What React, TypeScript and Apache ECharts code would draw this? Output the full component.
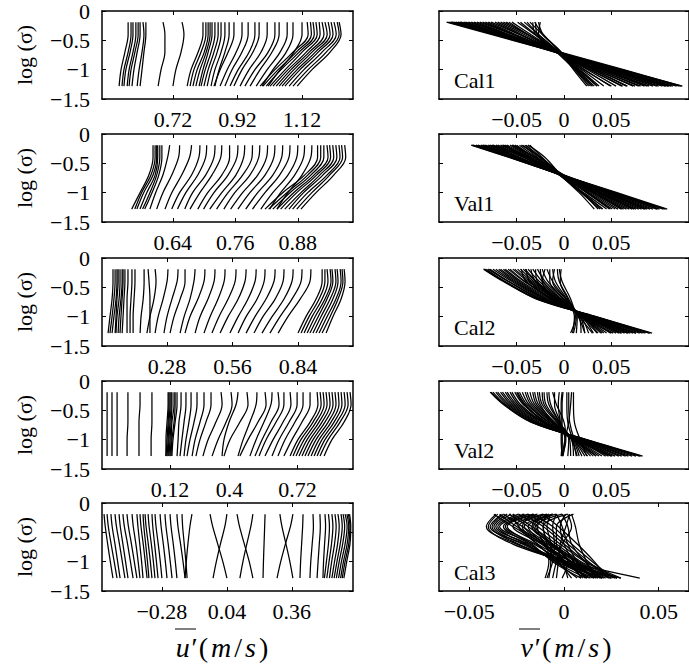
import React, { useEffect, useRef } from 'react';
import * as echarts from 'echarts';

// ---------------- data ----------------
const Y_LEVELS = [-0.19, -0.4, -0.7, -1.0, -1.28];
const Y_TICK_MIN = -1.5;
const Y_TICK_MAX = 0;
const Y_TICK_STEP = 0.5;

const L_XTICKS = [
  [0.72, 0.92, 1.12],
  [0.64, 0.76, 0.88],
  [0.28, 0.56, 0.84],
  [0.12, 0.4, 0.72],
  [-0.28, 0.04, 0.36],
];
const L_XRANGE = [
  [0.5, 1.278],
  [0.504, 0.986],
  [0.002, 1.075],
  [-0.2, 0.981],
  [-0.575, 0.661],
];
const R_XTICKS = [-0.05, 0, 0.05];
const R_XRANGE = [
  [-0.132, 0.132],
  [-0.132, 0.132],
  [-0.132, 0.132],
  [-0.132, 0.132],
  [-0.066, 0.066],
];
const PANEL_NAMES = ['Cal1', 'Val1', 'Cal2', 'Val2', 'Cal3'];

// u' profiles (x at each Y level)
const U_CAL1 = [
  [0.581, 0.581, 0.571, 0.559, 0.553], [0.590, 0.590, 0.581, 0.568, 0.562], [0.596, 0.596, 0.587, 0.574, 0.568],
  [0.605, 0.605, 0.596, 0.584, 0.578], [0.612, 0.612, 0.602, 0.590, 0.584], [0.618, 0.618, 0.609, 0.599, 0.593],
  [0.627, 0.630, 0.624, 0.615, 0.609], [0.636, 0.636, 0.630, 0.624, 0.618], [0.689, 0.695, 0.695, 0.683, 0.674],
  [0.748, 0.754, 0.745, 0.729, 0.720], [0.813, 0.813, 0.798, 0.776, 0.764], [0.822, 0.822, 0.807, 0.785, 0.773],
  [0.829, 0.829, 0.817, 0.795, 0.782], [0.835, 0.835, 0.823, 0.804, 0.791], [0.841, 0.841, 0.829, 0.813, 0.801],
  [0.850, 0.850, 0.838, 0.820, 0.807], [0.860, 0.860, 0.847, 0.829, 0.816], [0.869, 0.869, 0.857, 0.838, 0.826],
  [0.881, 0.881, 0.869, 0.850, 0.838], [0.894, 0.894, 0.881, 0.863, 0.850], [0.909, 0.909, 0.891, 0.866, 0.847],
  [0.934, 0.934, 0.916, 0.888, 0.866], [0.953, 0.953, 0.934, 0.903, 0.881], [0.974, 0.974, 0.956, 0.922, 0.897],
  [0.987, 0.987, 0.968, 0.934, 0.909], [1.012, 1.012, 0.993, 0.956, 0.928], [1.036, 1.036, 1.015, 0.974, 0.943],
  [1.049, 1.049, 1.027, 0.990, 0.959], [1.074, 1.074, 1.052, 1.012, 0.978], [1.092, 1.092, 1.071, 1.030, 0.996],
  [1.120, 1.120, 1.095, 1.052, 1.015], [1.136, 1.139, 1.092, 1.036, 0.990], [1.146, 1.149, 1.102, 1.046, 0.999],
  [1.154, 1.158, 1.111, 1.055, 1.009], [1.163, 1.167, 1.120, 1.068, 1.021], [1.173, 1.176, 1.133, 1.077, 1.030],
  [1.182, 1.188, 1.142, 1.086, 1.040], [1.191, 1.198, 1.151, 1.095, 1.049], [1.201, 1.207, 1.161, 1.105, 1.058],
  [1.210, 1.216, 1.170, 1.114, 1.067], [1.219, 1.226, 1.182, 1.126, 1.080], [1.229, 1.235, 1.195, 1.139, 1.092],
  [1.235, 1.241, 1.207, 1.151, 1.105],
];
const U_VAL1 = [
  [0.602, 0.602, 0.594, 0.577, 0.561], [0.606, 0.606, 0.598, 0.580, 0.567], [0.609, 0.609, 0.602, 0.584, 0.571],
  [0.611, 0.611, 0.606, 0.590, 0.577], [0.615, 0.615, 0.609, 0.596, 0.582], [0.619, 0.619, 0.613, 0.600, 0.586],
  [0.634, 0.630, 0.621, 0.607, 0.596], [0.653, 0.651, 0.638, 0.621, 0.609], [0.676, 0.672, 0.657, 0.638, 0.625],
  [0.692, 0.690, 0.676, 0.653, 0.638], [0.705, 0.703, 0.688, 0.665, 0.649], [0.721, 0.719, 0.703, 0.678, 0.663],
  [0.734, 0.732, 0.715, 0.692, 0.673], [0.749, 0.749, 0.734, 0.707, 0.688], [0.765, 0.763, 0.746, 0.719, 0.699],
  [0.778, 0.776, 0.761, 0.734, 0.711], [0.793, 0.792, 0.774, 0.746, 0.724], [0.807, 0.805, 0.788, 0.759, 0.738],
  [0.822, 0.820, 0.803, 0.774, 0.751], [0.836, 0.834, 0.817, 0.788, 0.765], [0.851, 0.849, 0.832, 0.803, 0.780],
  [0.865, 0.863, 0.845, 0.817, 0.793], [0.880, 0.878, 0.861, 0.832, 0.809], [0.893, 0.891, 0.874, 0.847, 0.826],
  [0.907, 0.905, 0.888, 0.861, 0.840], [0.918, 0.918, 0.893, 0.851, 0.817], [0.924, 0.924, 0.899, 0.859, 0.824],
  [0.930, 0.930, 0.905, 0.865, 0.832], [0.936, 0.938, 0.911, 0.872, 0.840], [0.941, 0.943, 0.916, 0.878, 0.847],
  [0.947, 0.949, 0.922, 0.886, 0.855], [0.953, 0.955, 0.928, 0.891, 0.863], [0.959, 0.961, 0.936, 0.899, 0.870],
  [0.964, 0.966, 0.941, 0.907, 0.878], [0.970, 0.972, 0.949, 0.915, 0.886],
];
const U_CAL2 = [
  [0.049, 0.049, 0.045, 0.036, 0.028], [0.058, 0.058, 0.053, 0.045, 0.036], [0.066, 0.066, 0.062, 0.053, 0.045],
  [0.071, 0.071, 0.066, 0.062, 0.058], [0.079, 0.079, 0.075, 0.066, 0.062], [0.088, 0.088, 0.083, 0.075, 0.071],
  [0.092, 0.092, 0.088, 0.083, 0.079], [0.100, 0.100, 0.096, 0.092, 0.088], [0.113, 0.113, 0.109, 0.109, 0.109],
  [0.130, 0.130, 0.126, 0.122, 0.122], [0.143, 0.143, 0.139, 0.135, 0.135], [0.182, 0.182, 0.178, 0.169, 0.165],
  [0.199, 0.203, 0.207, 0.207, 0.207], [0.229, 0.233, 0.224, 0.207, 0.194], [0.284, 0.280, 0.263, 0.242, 0.229],
  [0.327, 0.323, 0.301, 0.280, 0.267], [0.357, 0.357, 0.336, 0.310, 0.293], [0.400, 0.395, 0.378, 0.353, 0.336],
  [0.442, 0.438, 0.412, 0.378, 0.357], [0.485, 0.481, 0.455, 0.421, 0.400], [0.528, 0.524, 0.498, 0.464, 0.438],
  [0.575, 0.571, 0.541, 0.502, 0.472], [0.618, 0.613, 0.584, 0.541, 0.507], [0.661, 0.656, 0.626, 0.584, 0.549],
  [0.699, 0.695, 0.665, 0.618, 0.584], [0.742, 0.737, 0.703, 0.656, 0.618], [0.780, 0.776, 0.742, 0.690, 0.652],
  [0.819, 0.814, 0.780, 0.729, 0.686], [0.857, 0.853, 0.814, 0.763, 0.720], [0.895, 0.891, 0.849, 0.797, 0.755],
  [0.943, 0.943, 0.917, 0.874, 0.840], [0.955, 0.955, 0.930, 0.887, 0.853], [0.964, 0.968, 0.943, 0.900, 0.866],
  [0.977, 0.981, 0.955, 0.913, 0.879], [0.985, 0.989, 0.964, 0.926, 0.891], [0.998, 1.002, 0.977, 0.938, 0.904],
  [1.007, 1.011, 0.989, 0.951, 0.917], [1.020, 1.024, 1.002, 0.964, 0.930], [1.028, 1.032, 1.011, 0.977, 0.943],
  [1.037, 1.041, 1.024, 0.989, 0.960],
];
const U_VAL2 = [
  [-0.176, -0.176, -0.176, -0.176, -0.176], [-0.153, -0.153, -0.153, -0.153, -0.153], [-0.129, -0.129, -0.129, -0.129, -0.129],
  [-0.078, -0.078, -0.078, -0.082, -0.082], [-0.021, -0.021, -0.026, -0.026, -0.026], [0.035, 0.035, 0.035, 0.031, 0.031],
  [0.111, 0.111, 0.106, 0.101, 0.101], [0.115, 0.115, 0.111, 0.106, 0.101], [0.120, 0.120, 0.115, 0.111, 0.106],
  [0.125, 0.125, 0.120, 0.115, 0.111], [0.129, 0.129, 0.125, 0.120, 0.115], [0.139, 0.139, 0.129, 0.125, 0.120],
  [0.144, 0.144, 0.139, 0.129, 0.125], [0.153, 0.153, 0.144, 0.134, 0.129], [0.172, 0.172, 0.162, 0.158, 0.153],
  [0.195, 0.195, 0.186, 0.176, 0.167], [0.219, 0.219, 0.209, 0.195, 0.186], [0.247, 0.247, 0.233, 0.214, 0.200],
  [0.280, 0.280, 0.261, 0.238, 0.224], [0.313, 0.313, 0.289, 0.261, 0.242], [0.360, 0.365, 0.336, 0.299, 0.275],
  [0.407, 0.412, 0.384, 0.346, 0.318], [0.440, 0.431, 0.398, 0.374, 0.365], [0.482, 0.487, 0.449, 0.402, 0.374],
  [0.529, 0.525, 0.496, 0.464, 0.440], [0.567, 0.572, 0.534, 0.487, 0.449], [0.600, 0.595, 0.562, 0.525, 0.496],
  [0.628, 0.633, 0.595, 0.553, 0.520], [0.656, 0.656, 0.619, 0.572, 0.539], [0.685, 0.689, 0.652, 0.605, 0.567],
  [0.718, 0.718, 0.680, 0.633, 0.600], [0.746, 0.746, 0.708, 0.661, 0.628], [0.779, 0.779, 0.741, 0.694, 0.656],
  [0.812, 0.816, 0.779, 0.722, 0.685], [0.826, 0.831, 0.793, 0.736, 0.699], [0.840, 0.845, 0.807, 0.751, 0.713],
  [0.854, 0.859, 0.821, 0.765, 0.727], [0.868, 0.873, 0.835, 0.779, 0.741], [0.882, 0.887, 0.849, 0.793, 0.755],
  [0.896, 0.901, 0.864, 0.807, 0.769], [0.911, 0.915, 0.878, 0.821, 0.784], [0.925, 0.929, 0.892, 0.835, 0.798],
  [0.939, 0.944, 0.906, 0.849, 0.812], [0.953, 0.958, 0.920, 0.864, 0.826], [0.967, 0.972, 0.939, 0.882, 0.845],
];
const U_CAL3 = [
  [-0.565, -0.559, -0.547, -0.534, -0.521], [-0.550, -0.544, -0.530, -0.515, -0.501], [-0.531, -0.525, -0.511, -0.498, -0.486],
  [-0.511, -0.504, -0.489, -0.475, -0.462], [-0.491, -0.485, -0.472, -0.459, -0.447], [-0.472, -0.465, -0.449, -0.435, -0.422],
  [-0.452, -0.445, -0.430, -0.416, -0.403], [-0.427, -0.421, -0.408, -0.397, -0.388], [-0.403, -0.398, -0.389, -0.380, -0.373],
  [-0.388, -0.383, -0.372, -0.362, -0.353], [-0.373, -0.369, -0.360, -0.351, -0.344], [-0.363, -0.358, -0.347, -0.337, -0.329],
  [-0.348, -0.343, -0.332, -0.322, -0.314], [-0.329, -0.325, -0.316, -0.307, -0.299], [-0.314, -0.309, -0.298, -0.288, -0.280],
  [-0.289, -0.284, -0.273, -0.263, -0.255], [-0.265, -0.260, -0.249, -0.239, -0.230], [-0.240, -0.235, -0.224, -0.214, -0.206],
  [-0.206, -0.201, -0.188, -0.176, -0.166], [-0.181, -0.178, -0.170, -0.162, -0.156], [-0.132, -0.142, -0.152, -0.160, -0.166],
  [-0.043, -0.030, -0.005, 0.020, 0.040], [0.040, 0.030, 0.008, -0.012, -0.028], [0.090, 0.102, 0.126, 0.150, 0.168],
  [0.168, 0.158, 0.138, 0.119, 0.104], [0.228, 0.226, 0.223, 0.220, 0.218], [0.301, 0.311, 0.331, 0.350, 0.365],
  [0.365, 0.353, 0.328, 0.305, 0.287], [0.415, 0.413, 0.408, 0.403, 0.400], [0.464, 0.466, 0.460, 0.453, 0.449],
  [0.498, 0.500, 0.495, 0.489, 0.484], [0.523, 0.526, 0.521, 0.516, 0.513], [0.540, 0.545, 0.540, 0.530, 0.520],
  [0.557, 0.562, 0.555, 0.543, 0.532], [0.572, 0.578, 0.570, 0.556, 0.545], [0.587, 0.593, 0.585, 0.570, 0.557],
  [0.602, 0.608, 0.598, 0.582, 0.568], [0.612, 0.620, 0.610, 0.593, 0.579], [0.622, 0.632, 0.622, 0.604, 0.590],
  [0.631, 0.640, 0.632, 0.614, 0.600], [0.638, 0.646, 0.640, 0.622, 0.608], [0.644, 0.650, 0.646, 0.630, 0.616],
];

// v' profiles
const V_CAL1 = [
  [-0.124, -0.077, -0.008, 0.061, 0.125], [-0.119, -0.073, -0.008, 0.057, 0.119], [-0.114, -0.070, -0.008, 0.054, 0.113],
  [-0.109, -0.067, -0.008, 0.051, 0.107], [-0.104, -0.064, -0.008, 0.048, 0.100], [-0.098, -0.061, -0.008, 0.045, 0.094],
  [-0.092, -0.058, -0.008, 0.041, 0.088], [-0.086, -0.054, -0.008, 0.037, 0.081], [-0.080, -0.051, -0.008, 0.034, 0.073],
  [-0.073, -0.047, -0.008, 0.031, 0.067], [-0.067, -0.042, -0.007, 0.028, 0.061], [-0.061, -0.038, -0.007, 0.025, 0.055],
  [-0.055, -0.035, -0.006, 0.022, 0.049], [-0.049, -0.031, -0.006, 0.019, 0.042], [-0.042, -0.027, -0.005, 0.017, 0.037],
  [-0.036, -0.023, -0.004, 0.014, 0.032], [-0.031, -0.022, -0.003, 0.012, 0.028], [-0.027, -0.022, -0.003, 0.010, 0.024],
  [-0.030, -0.028, -0.006, 0.015, 0.035], [-0.025, -0.027, -0.005, 0.013, 0.030], [-0.122, -0.074, -0.010, 0.055, 0.115],
  [-0.118, -0.068, -0.006, 0.060, 0.122], [-0.110, -0.063, -0.005, 0.055, 0.110], [-0.120, -0.071, -0.004, 0.063, 0.124],
  [-0.116, -0.072, -0.009, 0.052, 0.111], [-0.112, -0.066, -0.006, 0.052, 0.108], [-0.106, -0.065, -0.009, 0.044, 0.098],
  [-0.101, -0.060, -0.005, 0.049, 0.104], [-0.095, -0.059, -0.009, 0.040, 0.085], [-0.089, -0.054, -0.005, 0.043, 0.090],
  [-0.083, -0.053, -0.009, 0.033, 0.075], [-0.077, -0.047, -0.005, 0.037, 0.079], [-0.070, -0.045, -0.009, 0.027, 0.062],
  [-0.064, -0.039, -0.004, 0.031, 0.066], [-0.058, -0.038, -0.008, 0.021, 0.050], [-0.046, -0.030, -0.007, 0.016, 0.035],
  [-0.039, -0.027, -0.006, 0.013, 0.030], [-0.033, -0.030, -0.008, 0.011, 0.026],
];
const V_VAL1 = [
  [-0.098, -0.058, -0.002, 0.056, 0.109], [-0.093, -0.056, -0.002, 0.054, 0.101], [-0.088, -0.053, -0.003, 0.048, 0.094],
  [-0.083, -0.050, -0.003, 0.045, 0.088], [-0.078, -0.047, -0.003, 0.040, 0.082], [-0.072, -0.043, -0.003, 0.037, 0.076],
  [-0.067, -0.040, -0.003, 0.034, 0.069], [-0.062, -0.038, -0.004, 0.031, 0.063], [-0.057, -0.035, -0.004, 0.028, 0.057],
  [-0.052, -0.032, -0.004, 0.025, 0.051], [-0.047, -0.029, -0.004, 0.021, 0.045], [-0.041, -0.026, -0.004, 0.018, 0.038],
  [-0.036, -0.023, -0.004, 0.016, 0.032], [-0.096, -0.055, 0.000, 0.052, 0.105], [-0.085, -0.048, -0.001, 0.050, 0.098],
  [-0.075, -0.042, 0.000, 0.043, 0.085], [-0.065, -0.037, -0.001, 0.036, 0.072], [-0.055, -0.030, 0.000, 0.032, 0.060],
  [-0.045, -0.025, -0.002, 0.024, 0.048], [-0.038, -0.020, -0.003, 0.020, 0.040], [-0.097, -0.057, -0.003, 0.053, 0.107],
  [-0.091, -0.053, -0.002, 0.051, 0.099], [-0.086, -0.052, -0.004, 0.046, 0.091], [-0.080, -0.048, -0.002, 0.043, 0.086],
  [-0.076, -0.046, -0.004, 0.039, 0.079], [-0.070, -0.041, -0.002, 0.038, 0.074], [-0.064, -0.039, -0.004, 0.032, 0.066],
  [-0.060, -0.036, -0.003, 0.030, 0.061], [-0.054, -0.034, -0.005, 0.026, 0.054], [-0.050, -0.031, -0.003, 0.024, 0.049],
  [-0.043, -0.028, -0.005, 0.019, 0.041], [-0.040, -0.024, -0.002, 0.019, 0.036],
];
const V_CAL2 = [
  [-0.085, -0.064, -0.028, 0.034, 0.093], [-0.080, -0.059, -0.025, 0.032, 0.086], [-0.075, -0.055, -0.022, 0.030, 0.080],
  [-0.069, -0.051, -0.019, 0.028, 0.073], [-0.064, -0.047, -0.016, 0.026, 0.067], [-0.059, -0.042, -0.012, 0.024, 0.061],
  [-0.054, -0.038, -0.010, 0.023, 0.055], [-0.049, -0.034, -0.008, 0.022, 0.049], [-0.043, -0.030, -0.006, 0.021, 0.042],
  [-0.038, -0.026, -0.004, 0.020, 0.036], [-0.033, -0.023, -0.003, 0.019, 0.031], [-0.028, -0.020, -0.001, 0.018, 0.026],
  [-0.023, -0.017, 0.000, 0.017, 0.022], [-0.018, -0.012, 0.002, 0.016, 0.018], [-0.012, -0.009, 0.003, 0.014, 0.013],
  [-0.007, -0.005, 0.005, 0.013, 0.010], [-0.005, -0.002, 0.007, 0.012, 0.007], [-0.040, -0.036, -0.014, 0.024, 0.076],
  [-0.020, -0.023, -0.007, 0.020, 0.050], [-0.030, -0.028, -0.010, 0.022, 0.060], [-0.082, -0.062, -0.027, 0.033, 0.090],
  [-0.072, -0.053, -0.020, 0.029, 0.076], [-0.062, -0.045, -0.014, 0.025, 0.064], [-0.052, -0.036, -0.009, 0.022, 0.052],
  [-0.035, -0.030, -0.006, 0.020, 0.040], [-0.015, -0.015, 0.000, 0.016, 0.030], [-0.084, -0.063, -0.029, 0.033, 0.091],
  [-0.078, -0.058, -0.024, 0.031, 0.083], [-0.067, -0.049, -0.018, 0.027, 0.070], [-0.057, -0.041, -0.012, 0.024, 0.058],
  [-0.046, -0.032, -0.007, 0.021, 0.045], [-0.041, -0.029, -0.005, 0.020, 0.039], [-0.025, -0.022, -0.003, 0.018, 0.035],
  [-0.010, -0.012, 0.002, 0.015, 0.022], [-0.045, -0.040, -0.012, 0.022, 0.068], [-0.003, -0.004, 0.004, 0.011, 0.009],
];
const V_VAL2 = [
  [-0.078, -0.064, -0.035, 0.024, 0.083], [-0.072, -0.060, -0.032, 0.022, 0.076], [-0.067, -0.056, -0.029, 0.020, 0.068],
  [-0.062, -0.052, -0.026, 0.018, 0.061], [-0.057, -0.048, -0.023, 0.016, 0.054], [-0.052, -0.043, -0.020, 0.014, 0.047],
  [-0.047, -0.039, -0.017, 0.013, 0.040], [-0.041, -0.035, -0.014, 0.012, 0.034], [-0.036, -0.031, -0.012, 0.011, 0.028],
  [-0.031, -0.027, -0.010, 0.010, 0.022], [-0.026, -0.023, -0.008, 0.009, 0.016], [-0.021, -0.019, -0.006, 0.008, 0.010],
  [-0.016, -0.014, -0.005, 0.005, 0.004], [-0.010, -0.010, -0.004, 0.001, -0.001], [-0.005, -0.006, -0.004, -0.002, -0.003],
  [-0.001, -0.002, -0.002, -0.002, -0.002], [0.005, 0.005, 0.006, 0.011, 0.019], [0.010, 0.010, 0.011, 0.017, 0.024],
  [0.008, 0.007, 0.005, 0.001, -0.002], [-0.049, -0.041, -0.021, 0.011, 0.050], [-0.028, -0.025, -0.011, 0.011, 0.034],
  [-0.075, -0.062, -0.034, 0.023, 0.080], [-0.065, -0.054, -0.028, 0.019, 0.065], [-0.055, -0.046, -0.022, 0.015, 0.051],
  [-0.044, -0.037, -0.016, 0.012, 0.037], [-0.012, -0.008, 0.000, 0.002, -0.002], [-0.077, -0.063, -0.034, 0.023, 0.081],
  [-0.070, -0.058, -0.031, 0.021, 0.072], [-0.060, -0.050, -0.024, 0.017, 0.058], [-0.050, -0.042, -0.019, 0.014, 0.044],
  [-0.039, -0.033, -0.013, 0.011, 0.031], [-0.033, -0.029, -0.011, 0.010, 0.025], [-0.023, -0.021, -0.007, 0.008, 0.013],
  [-0.018, -0.016, -0.005, 0.006, 0.007], [0.003, 0.003, 0.004, 0.009, 0.014], [-0.002, -0.003, -0.003, -0.003, -0.002],
];
const V_CAL3 = [
  [-0.035, -0.040, -0.027, 0.002, 0.040], [-0.032, -0.038, -0.024, -0.001, 0.025], [-0.030, -0.037, -0.022, -0.002, 0.020],
  [-0.024, -0.035, -0.020, -0.004, 0.016], [-0.019, -0.032, -0.018, -0.005, 0.012], [-0.014, -0.030, -0.017, -0.006, 0.009],
  [-0.009, -0.024, -0.014, -0.004, 0.007], [-0.004, -0.019, -0.011, -0.003, 0.004], [0.002, -0.011, -0.008, -0.001, 0.002],
  [0.005, -0.004, -0.004, 0.002, -0.001], [-0.037, -0.027, -0.011, 0.004, 0.017], [-0.032, -0.022, -0.008, 0.007, 0.022],
  [-0.027, -0.017, -0.004, 0.009, 0.027], [-0.022, -0.011, 0.000, 0.012, 0.030], [-0.017, -0.006, 0.004, 0.015, 0.026],
  [-0.011, -0.003, 0.007, 0.016, 0.023], [-0.006, -0.014, -0.010, 0.001, 0.012], [-0.004, -0.001, 0.002, 0.007, 0.015],
  [-0.001, 0.002, 0.004, 0.011, 0.020], [0.004, 0.006, 0.008, 0.012, 0.017], [0.002, 0.004, -0.001, -0.004, -0.006],
  [-0.004, -0.006, -0.005, -0.006, -0.009], [-0.009, -0.011, -0.009, -0.008, -0.010], [-0.027, -0.024, -0.014, 0.004, 0.025],
  [-0.017, -0.022, -0.011, 0.004, 0.021], [-0.011, -0.017, -0.006, 0.007, 0.019], [-0.036, -0.041, -0.025, 0.000, 0.030],
  [-0.033, -0.039, -0.021, 0.001, 0.028], [-0.028, -0.036, -0.019, -0.002, 0.018], [-0.021, -0.034, -0.016, 0.000, 0.020],
  [-0.016, -0.031, -0.015, -0.002, 0.014], [-0.011, -0.027, -0.012, 0.000, 0.013], [-0.006, -0.021, -0.010, 0.001, 0.010],
  [-0.001, -0.015, -0.006, 0.003, 0.009], [-0.034, -0.025, -0.009, 0.006, 0.019], [-0.029, -0.019, -0.006, 0.008, 0.024],
  [-0.024, -0.014, -0.002, 0.011, 0.028], [-0.019, -0.009, 0.002, 0.013, 0.024], [-0.008, -0.016, -0.007, 0.004, 0.016],
  [0.001, -0.002, 0.000, 0.005, 0.011], [0.003, 0.001, -0.002, -0.003, -0.004], [-0.007, -0.009, -0.007, -0.007, -0.008],
];

const U_PANELS = [U_CAL1, U_VAL1, U_CAL2, U_VAL2, U_CAL3];
const V_PANELS = [V_CAL1, V_VAL1, V_CAL2, V_VAL2, V_CAL3];

// ---------------- layout ----------------
const W = 689;
const H = 666;
const ROW_TOPS = [11, 134, 258, 381, 503];
const ROW_H = 88;
const L_LEFT = 102;
const L_W = 251;
const R_LEFT = 439;
const R_W = 255;
const FONT = "'Liberation Serif', 'Times New Roman', serif";
const FS = 22;

const fmt = (v: number) => (v < 0 ? '\u2212' + String(Math.abs(v)) : String(v));

export default function App() {
  const ref = useRef<HTMLDivElement>(null);
  useEffect(() => {
    if (!ref.current) return;
    const chart = echarts.init(ref.current, undefined, { renderer: 'svg' });

    const grids: any[] = [];
    const xAxes: any[] = [];
    const yAxes: any[] = [];
    const series: any[] = [];
    const graphics: any[] = [];

    const axisLine = { show: true, onZero: false, lineStyle: { color: '#000', width: 1.5 } };
    const tick = (vals?: number[]) => ({
      show: true,
      inside: true,
      length: 4,
      lineStyle: { color: '#000', width: 1 },
      ...(vals ? { customValues: vals } : {}),
    });
    const labelStyle = { color: '#000', fontFamily: FONT, fontSize: FS };

    for (let col = 0; col < 2; col++) {
      for (let row = 0; row < 5; row++) {
        const g = grids.length;
        const left = col === 0 ? L_LEFT : R_LEFT;
        const width = col === 0 ? L_W : R_W;
        grids.push({ left, top: ROW_TOPS[row], width, height: ROW_H, containLabel: false });
        const ticks = col === 0 ? L_XTICKS[row] : R_XTICKS;
        const range = col === 0 ? L_XRANGE[row] : R_XRANGE[row];
        xAxes.push({
          type: 'value', gridIndex: g, position: 'bottom', min: range[0], max: range[1],
          axisLine, axisTick: tick(ticks), splitLine: { show: false },
          axisLabel: { show: true, customValues: ticks, formatter: fmt, margin: 9, ...labelStyle },
        });
        xAxes.push({
          type: 'value', gridIndex: g, position: 'top', min: range[0], max: range[1],
          axisLine, axisTick: tick(ticks), splitLine: { show: false }, axisLabel: { show: false },
        });
        yAxes.push({
          type: 'value', gridIndex: g, position: 'left', min: Y_TICK_MIN, max: Y_TICK_MAX, interval: Y_TICK_STEP,
          axisLine, axisTick: tick(), splitLine: { show: false },
          axisLabel: { show: col === 0, formatter: fmt, margin: 12, ...labelStyle },
        });
        yAxes.push({
          type: 'value', gridIndex: g, position: 'right', min: Y_TICK_MIN, max: Y_TICK_MAX, interval: Y_TICK_STEP,
          axisLine, axisTick: tick(), splitLine: { show: false }, axisLabel: { show: false },
        });
        const curves = col === 0 ? U_PANELS[row] : V_PANELS[row];
        curves.forEach((c) => {
          series.push({
            type: 'line', xAxisIndex: 2 * g, yAxisIndex: 2 * g,
            data: c.map((x, i) => [x, Y_LEVELS[i]]),
            symbol: 'none', smooth: 0.35, silent: true,
            lineStyle: { color: '#000', width: 1.25 },
          });
        });

        if (col === 0) {
          graphics.push({
            type: 'text', x: 24, y: ROW_TOPS[row] + ROW_H / 2, rotation: Math.PI / 2,
            style: { text: 'log (\u03c3)', font: `${FS}px ${FONT}`, fill: '#000', textAlign: 'center', textVerticalAlign: 'middle' },
          });
        } else {
          graphics.push({
            type: 'text', x: 454, y: ROW_TOPS[row] + 69,
            style: { text: PANEL_NAMES[row], font: `${FS}px ${FONT}`, fill: '#000', textAlign: 'left', textVerticalAlign: 'middle' },
          });
        }
      }
    }

    const TS = 28;
    const titleRich = {
      i: { fontFamily: FONT, fontStyle: 'italic', fontSize: TS, fill: '#000', padding: [0, 1.5] },
      n: { fontFamily: FONT, fontSize: TS, fill: '#000', padding: [0, 1.5] },
    };
    const titles = [
      { cx: 222, t: '{i|u\u2032}{n|(}{i|m}{n|/}{i|s}{n|)}' },
      { cx: 566, t: '{i|v\u2032}{n|(}{i|m}{n|/}{i|s}{n|)}' },
    ];
    titles.forEach(({ cx, t }) => {
      graphics.push({
        type: 'text', x: cx, y: 647,
        style: { text: t, rich: titleRich, textAlign: 'center', textVerticalAlign: 'middle' },
      });
      graphics.push({
        type: 'line', shape: { x1: cx - 47, y1: 629, x2: cx - 26, y2: 629 },
        style: { stroke: '#000', lineWidth: 1 },
      });
    });

    chart.setOption({
      animation: false,
      backgroundColor: '#fff',
      grid: grids,
      xAxis: xAxes,
      yAxis: yAxes,
      series,
      graphic: graphics,
    });
    return () => chart.dispose();
  }, []);
  return <div ref={ref} style={{ position: 'absolute', left: 0, top: 0, width: W, height: H }} />;
}
